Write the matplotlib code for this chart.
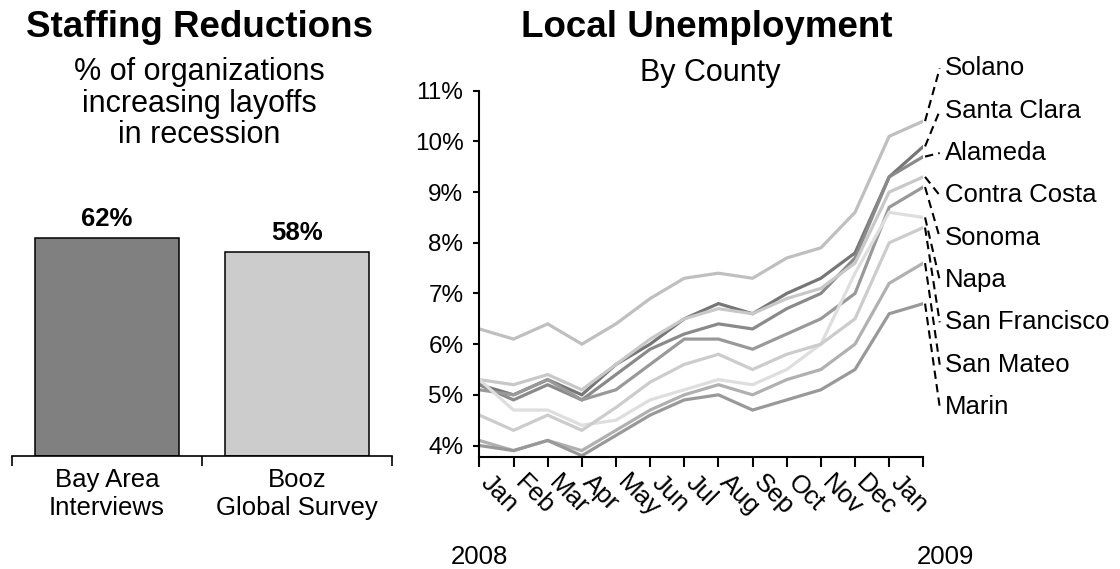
import matplotlib
matplotlib.use('Agg')
import matplotlib.pyplot as plt
from matplotlib.ticker import FuncFormatter

plt.rcParams['font.family'] = ['Liberation Sans', 'DejaVu Sans']

# --- staffing survey ---
survey_names = ['Bay Area\nInterviews', 'Booz\nGlobal Survey']
survey_pct = [62, 58]
survey_colors = ['#808080', '#cccccc']

# --- county unemployment rate (%) ---
months = ['Jan', 'Feb', 'Mar', 'Apr', 'May', 'Jun', 'Jul', 'Aug', 'Sep', 'Oct', 'Nov', 'Dec', 'Jan']
counties = ['Solano', 'Santa Clara', 'Alameda', 'Contra Costa', 'Sonoma',
            'Napa', 'San Francisco', 'San Mateo', 'Marin']
solano = [6.3, 6.1, 6.4, 6.0, 6.4, 6.9, 7.3, 7.4, 7.3, 7.7, 7.9, 8.6, 10.1, 10.4]
santa_clara = [5.2, 5.0, 5.3, 5.0, 5.6, 6.0, 6.5, 6.8, 6.6, 7.0, 7.3, 7.8, 9.3, 9.9]
alameda = [5.2, 4.9, 5.2, 4.9, 5.4, 5.9, 6.2, 6.4, 6.3, 6.7, 7.0, 7.7, 9.3, 9.7]
contra_costa = [5.3, 5.2, 5.4, 5.1, 5.6, 6.1, 6.5, 6.7, 6.6, 6.9, 7.1, 7.6, 9.0, 9.3]
sonoma = [5.1, 5.0, 5.3, 4.9, 5.1, 5.6, 6.1, 6.1, 5.9, 6.2, 6.5, 7.0, 8.7, 9.1]
napa = [5.3, 4.7, 4.7, 4.4, 4.5, 4.9, 5.1, 5.3, 5.2, 5.5, 6.0, 7.4, 8.6, 8.5]
san_francisco = [4.6, 4.3, 4.6, 4.3, 4.75, 5.25, 5.6, 5.8, 5.5, 5.8, 6.0, 6.5, 8.0, 8.3]
san_mateo = [4.1, 3.9, 4.1, 3.9, 4.3, 4.7, 5.0, 5.2, 5.0, 5.3, 5.5, 6.0, 7.2, 7.6]
marin = [4.0, 3.9, 4.1, 3.8, 4.2, 4.6, 4.9, 5.0, 4.7, 4.9, 5.1, 5.5, 6.6, 6.8]
series = [solano, santa_clara, alameda, contra_costa, sonoma,
          napa, san_francisco, san_mateo, marin]
line_colors = ['#bfbfbf', '#767676', '#8a8a8a', '#c8c8c8', '#999999',
               '#dedede', '#cccccc', '#b0b0b0', '#999999']

fig = plt.figure(figsize=(11.2, 5.69), dpi=100)

# ---------- left: bar chart ----------
ax1 = fig.add_axes([0.0105, 0.1991, 0.3393, 0.4313])
xs = range(len(survey_pct))
ax1.bar(xs, survey_pct, width=0.76, color=survey_colors, edgecolor='black', linewidth=1.1, zorder=2)
for x, v in zip(xs, survey_pct):
    ax1.annotate(f'{v}%', xy=(x, v), xytext=(0, 5), textcoords='offset points',
                 ha='center', va='bottom', fontsize=18.5, fontweight='bold')
ax1.set_xlim(-0.5, 1.5)
ax1.set_ylim(0, 70)
for s in ['top', 'right', 'left']:
    ax1.spines[s].set_visible(False)
ax1.spines['bottom'].set_linewidth(1.2)
ax1.set_yticks([])
ax1.set_xticks([-0.5, 0.5, 1.5])
ax1.set_xticklabels([])
ax1.tick_params(axis='x', which='major', direction='out', length=7.5, width=1.2)
ax1.set_xticks(list(xs), minor=True)
ax1.set_xticklabels(survey_names, minor=True, fontsize=18.5, linespacing=1.22)
ax1.tick_params(axis='x', which='minor', length=0, pad=9)

fig.text(0.178, 0.951, 'Staffing Reductions', ha='center', va='center',
         fontsize=26.5, fontweight='bold')
fig.text(0.178, 0.818, '% of organizations\nincreasing layoffs\nin recession',
         ha='center', va='center', fontsize=22, linespacing=1.08)

# ---------- right: line chart ----------
ax2 = fig.add_axes([0.428, 0.1974, 0.3964, 0.6432])
x = list(range(len(solano)))
for vals, col in zip(series, line_colors):
    ax2.plot(x, vals, color=col, linewidth=2.3, solid_joinstyle='miter')
ax2.set_xlim(0, len(solano) - 1)
ax2.set_ylim(3.78, 11)
for s in ['top', 'right']:
    ax2.spines[s].set_visible(False)
for s in ['left', 'bottom']:
    ax2.spines[s].set_linewidth(1.5)
ax2.set_yticks(range(4, 12))
ax2.yaxis.set_major_formatter(FuncFormatter(lambda v, p: f'{v:.0f}%'))
ax2.tick_params(axis='y', direction='out', length=4.5, width=1.5, labelsize=17.5, pad=7)
ax2.set_xticks(x)
ax2.set_xticklabels([])
ax2.tick_params(axis='x', direction='out', length=7.5, width=1.5)

# month labels slanted down between the tick marks
for i, m in enumerate(months):
    ax2.annotate(m, xy=(i + 0.15, 0), xycoords=('data', 'axes fraction'),
                 xytext=(0, -16), textcoords='offset points', rotation=-45,
                 rotation_mode='anchor', ha='left', va='center', fontsize=18.5)
ax2.annotate('2008', xy=(0, 0), xycoords=('data', 'axes fraction'),
             xytext=(0, -72), textcoords='offset points', ha='center', va='center', fontsize=18.5)
ax2.annotate('2009', xy=(len(solano) - 1, 0), xycoords=('data', 'axes fraction'),
             xytext=(16, -72), textcoords='offset points', ha='center', va='center', fontsize=18.5)

# county names at the right with dashed leaders to the last point
label_top = 11.44
label_step = 0.835
last = len(solano) - 1
for k, (name, vals) in enumerate(zip(counties, series)):
    ly = label_top - label_step * k
    ax2.plot([last + 0.05, last + 0.48], [vals[-1], ly], color='black',
             linewidth=1.5, linestyle=(0, (4, 2.5)), clip_on=False)
    ax2.text(last + 0.62, ly, name, ha='left', va='center', fontsize=18.5, clip_on=False)

fig.text(0.631, 0.951, 'Local Unemployment', ha='center', va='center',
         fontsize=26.5, fontweight='bold')
fig.text(0.634, 0.871, 'By County', ha='center', va='center', fontsize=22)

fig.savefig('out.png', dpi=100)
